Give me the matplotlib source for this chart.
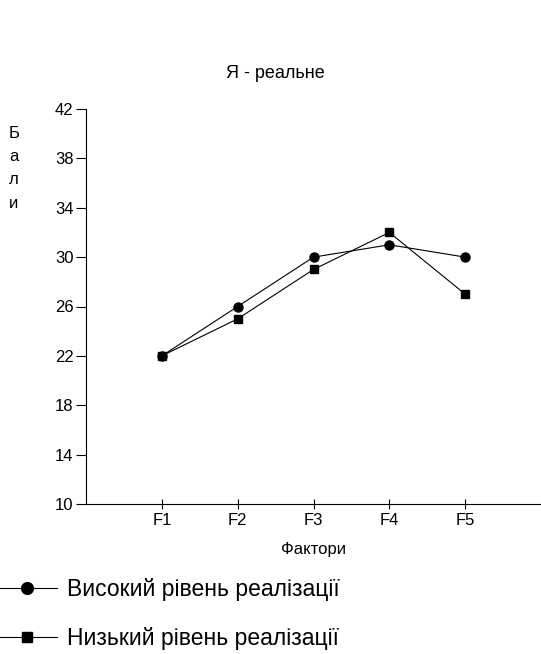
import matplotlib
matplotlib.use("Agg")
import matplotlib.pyplot as plt

plt.rcParams['font.family'] = ['Liberation Sans', 'DejaVu Sans']

categories = ["F1", "F2", "F3", "F4", "F5"]
high = [22, 26, 30, 31, 30]
low = [22, 25, 29, 32, 27]
yticks = [10, 14, 18, 22, 26, 30, 34, 38, 42]
title = "Я - реальне"
xlabel = "Фактори"
ylabel_letters = ["Б", "а", "л", "и"]
legend_labels = ["Високий рівень реалізації", "Низький рівень реалізації"]

fig = plt.figure(figsize=(5.41, 6.54), dpi=100)
ax = fig.add_axes([86/541, 1-504/654, 1-86/541, (504-109)/654])
x = list(range(1, len(categories)+1))
l1, = ax.plot(x, high, color='black', lw=0.8, marker='o', ms=6.5)
l2, = ax.plot(x, low, color='black', lw=0.8, marker='s', ms=5.5)
ax.set_xlim(0, 6)
ax.set_ylim(10, 42)
ax.set_xticks(x)
ax.set_xticklabels(categories, fontsize=12)
ax.set_yticks(yticks)
ax.set_yticklabels([str(v) for v in yticks], fontsize=12)
for s in ['top', 'right']:
    ax.spines[s].set_visible(False)
ax.spines['left'].set_linewidth(0.8)
ax.spines['bottom'].set_linewidth(0.8)
ax.tick_params(axis='x', direction='inout', length=7, width=0.8, pad=3)
ax.tick_params(axis='y', direction='out', length=7, width=0.8, pad=2)
ax.set_xlabel(xlabel, fontsize=12, labelpad=10)

fig.text(275/541, 1-73/654, title, ha='center', va='center', fontsize=13)
for i, ch in enumerate(ylabel_letters):
    fig.text(14/541, 1-(133+23.5*i)/654, ch, ha='center', va='center', fontsize=12)

fig.legend([l1, l2], legend_labels, loc='upper left', bbox_to_anchor=(-0.005, 1-578/654),
           frameon=False, fontsize=16.5, handlelength=2.6, handletextpad=0.45,
           labelspacing=1.15, borderaxespad=0, borderpad=0, markerscale=1.3)

fig.savefig("out.png", dpi=100)
